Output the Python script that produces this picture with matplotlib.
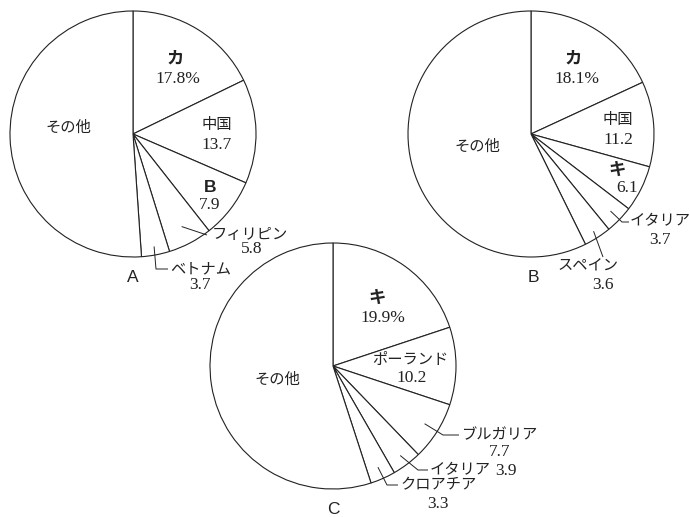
import matplotlib
matplotlib.use("Agg")
import matplotlib.pyplot as plt
import numpy as np

# shares (%), clockwise from 12 o'clock
a_labels = ["カ", "中国", "B", "フィリピン", "ベトナム", "その他"]
a_values = [17.8, 13.7, 7.9, 5.8, 3.7, 51.1]

b_labels = ["カ", "中国", "キ", "イタリア", "スペイン", "その他"]
b_values = [18.1, 11.2, 6.1, 3.7, 3.6, 57.3]

c_labels = ["キ", "ポーランド", "ブルガリア", "イタリア", "クロアチア", "その他"]
c_values = [19.9, 10.2, 7.7, 3.9, 3.3, 55.0]

W, H = 690, 517
INK = "#222222"
MIXED = ["Liberation Serif", "Noto Sans CJK JP"]
GOTHIC = "Noto Sans CJK JP"
NUM = 12.5

fig = plt.figure(figsize=(W / 100, H / 100), dpi=100)
ax = fig.add_axes([0, 0, 1, 1])


def Y(y):
    # pixel row (from top) -> data y
    return H - y


def draw_pie(values, cx, cy, r=123):
    wedges, _ = ax.pie(values, startangle=90, counterclock=False,
                       center=(cx, Y(cy)), radius=r,
                       wedgeprops=dict(facecolor="white", edgecolor=INK,
                                       linewidth=0.8))
    return wedges


def mid_point(wedge, frac):
    ang = np.deg2rad((wedge.theta1 + wedge.theta2) / 2)
    cx, cy = wedge.center
    return cx + frac * wedge.r * np.cos(ang), cy + frac * wedge.r * np.sin(ang)


def leader(wedge, frac, pts):
    x0, y0 = mid_point(wedge, frac)
    xs = [x0] + [p[0] for p in pts]
    ys = [y0] + [Y(p[1]) for p in pts]
    ax.plot(xs, ys, color=INK, lw=0.7, solid_capstyle="butt")


def txt(x, y, s, size=11, ha="center", bold=False):
    if bold:
        ax.text(x, Y(y), s, fontsize=size, ha=ha, va="center", color=INK,
                family=GOTHIC, fontweight="bold")
    else:
        ax.text(x, Y(y), s, fontsize=size, ha=ha, va="center", color=INK,
                family=MIXED)


def num(x, y, v, pct=False, ha="center"):
    s = f"{v}%" if pct else f"{v}"
    txt(x, y, s, NUM, ha=ha)


# ---- pie A ----
wa = draw_pie(a_values, 133, 134)
txt(175, 59, a_labels[0], 12.5, bold=True)
num(178, 79, a_values[0], pct=True)
txt(217, 125, a_labels[1], 11)
num(217, 145, a_values[1])
ax.text(210, Y(188), a_labels[2], fontsize=12.5, ha="center", va="center",
        color=INK, family="Liberation Sans", fontweight="bold")
num(210, 205, a_values[2])
leader(wa[3], 0.85, [(207, 235)])
txt(212, 235, a_labels[3], 11, ha="left")
num(252, 249, a_values[3])
leader(wa[4], 0.93, [(156, 269), (168, 269)])
txt(170, 270, a_labels[4], 11, ha="left")
num(200, 285, a_values[4])
txt(68, 128, a_labels[5], 11)
ax.text(133, Y(278), "A", fontsize=12.5, ha="center", va="center",
        color=INK, family="Liberation Sans")

# ---- pie B ----
wb = draw_pie(b_values, 531, 134)
txt(573, 59, b_labels[0], 12.5, bold=True)
num(577, 79, b_values[0], pct=True)
txt(618, 120, b_labels[1], 11)
num(618, 140, b_values[1])
txt(617, 170, b_labels[2], 12.5, bold=True)
num(627, 188, b_values[2])
leader(wb[3], 0.9, [(622, 222), (629, 222)])
txt(630, 222, b_labels[3], 11, ha="left")
num(660, 240, b_values[3])
leader(wb[4], 0.94, [(603, 257)])
txt(588, 267, b_labels[4], 11)
num(603, 285, b_values[4])
txt(477, 147, b_labels[5], 11)
ax.text(533, Y(278), "B", fontsize=12.5, ha="center", va="center",
        color=INK, family="Liberation Sans")

# ---- pie C ----
wc = draw_pie(c_values, 333, 366)
txt(377, 298, c_labels[0], 12.5, bold=True)
num(383, 318, c_values[0], pct=True)
txt(410, 360, c_labels[1], 11)
num(412, 378, c_values[1])
leader(wc[2], 0.88, [(443, 435), (459, 435)])
txt(461, 435, c_labels[2], 11, ha="left")
num(500, 452, c_values[2])
leader(wc[3], 0.91, [(418, 470), (428, 470)])
txt(430, 471, c_labels[3], 11, ha="left")
num(495, 471, c_values[3], ha="left")
leader(wc[4], 0.9, [(387, 485), (398, 485)])
txt(400, 486, c_labels[4], 11, ha="left")
num(438, 504, c_values[4])
txt(277, 380, c_labels[5], 11)
ax.text(333, Y(509), "C", fontsize=12.5, ha="center", va="center",
        color=INK, family="Liberation Sans")

ax.set_xlim(0, W)
ax.set_ylim(0, H)
ax.set_aspect("equal")
ax.axis("off")

plt.savefig("out.png", dpi=100, facecolor="white")
